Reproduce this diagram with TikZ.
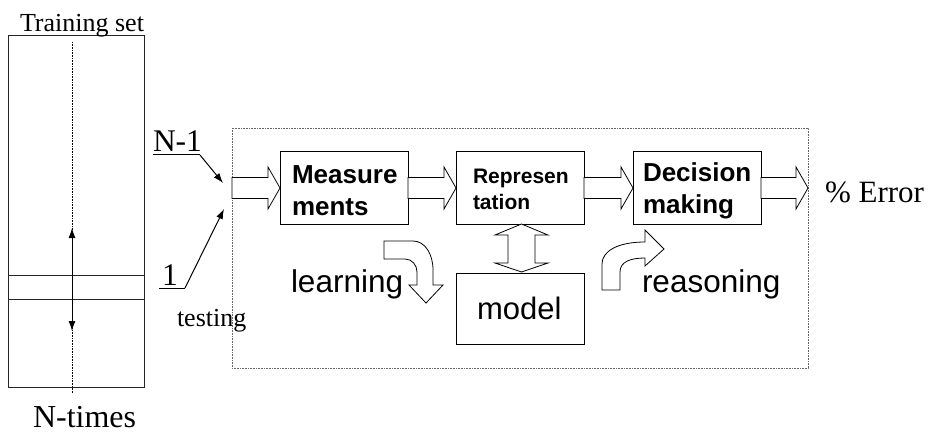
\documentclass[tikz,border=0pt]{standalone}
\usepackage{fontspec}
\setmainfont{Liberation Serif}
\setsansfont{Liberation Sans}
\usetikzlibrary{arrows.meta}
\newcommand\fsz[1]{\fontsize{#1}{#1}\selectfont}
\tikzset{
  txt/.style={anchor=base west, inner sep=0pt, outer sep=0pt},
  serif/.style={txt, font=\rmfamily\fsz{#1}},
  sans/.style={txt, font=\sffamily\fsz{#1}},
  bsans/.style={txt, font=\sffamily\bfseries\fsz{#1}},
  procbox/.style={draw=black, line width=1pt, minimum width=128pt, minimum height=72pt, inner sep=0pt},
  blockarr/.style={draw=black, line width=0.8pt, fill=white, line join=miter},
  thinarr/.style={draw=black, line width=1pt, -{Latex[length=10pt,width=7pt]}},
  boththin/.style={draw=black, line width=1pt, {Latex[length=10pt,width=7pt]}-{Latex[length=10pt,width=7pt]}},
}
\begin{document}
\begin{tikzpicture}[x=1pt,y=-1pt]
\useasboundingbox (0,0) rectangle (932,433);

% left training-set column
\draw[line width=0.9pt, draw=black!85] (8,35) rectangle (144,387);
\draw[line width=0.9pt, draw=black!85] (8,275) -- (144,275);
\draw[line width=0.9pt, draw=black!85] (8,299) -- (144,299);
\draw[line width=0.6pt, densely dotted] (72,42) -- (72,393);
\coordinate (upT) at (72,228);
\coordinate (dnT) at (72,331);
\draw[boththin] (upT) -- (dnT);
\node[serif=26] (train) at (20,32) {Training set};
\node[serif=32] (ntimes) at (33,427) {N-times};

% N-1 and 1 inputs
\node[serif=31.5] (nm1) at (153,152) {N-1};
\coordinate (nm1a) at (153,155);
\coordinate (nm1b) at (200,155);
\coordinate (nm1t) at (223,183);
\draw[line width=1pt] (nm1a) -- (nm1b);
\draw[thinarr] (nm1b) -- (nm1t);
\node[serif=31.5] (one) at (162,285) {1};
\coordinate (onea) at (159,288);
\coordinate (oneb) at (185,288);
\coordinate (onet) at (224,209);
\draw[line width=1pt] (onea) -- (oneb);
\draw[thinarr] (oneb) -- (onet);
\node[serif=26] (testing) at (177,326) {testing};

% outer frame
\draw[line width=0.6pt, draw=black!60, densely dotted] (232,128) rectangle (808,368);

% boxes
\node[procbox] (meas) at (344,188) {};
\node[procbox] (rep) at (520,188) {};
\node[procbox] (dec) at (697,188) {};
\node[procbox, minimum height=71pt] (model) at (520,308.5) {};

\node[bsans=26] (measA) at (292,183) {Measure};
\node[bsans=26] (measB) at (292,215) {ments};
\node[bsans=21] (repA) at (473,183) {Represen};
\node[bsans=21] (repB) at (473,209) {tation};
\node[bsans=26] (decA) at (643,182) {Decision};
\node[bsans=26] (decB) at (643,213) {making};
\node[sans=31] (modelT) at (477,319) {model};
\node[sans=31.5] (learnT) at (291,292) {learning};
\node[sans=31.5] (reasT) at (642,292) {reasoning};
\node[serif=31] (err) at (825,202) {\% Error};

% horizontal block arrows
\foreach \xa/\xt in {232/280, 408/456, 584/633, 761/808}{
  \draw[blockarr] (\xa,177.5) -- (\xt-12,177.5) -- (\xt-12,167) -- (\xt,188)
     -- (\xt-12,209) -- (\xt-12,198.5) -- (\xa,198.5) -- cycle;
}

% double block arrow between representation and model
\draw[blockarr] (521.5,224) -- (548,235) -- (535,235) -- (535,263) -- (548,263)
  -- (521.5,272) -- (495,263) -- (508,263) -- (508,235) -- (495,235) -- cycle;

% learning curved arrow
\draw[blockarr] (384,241) -- (413,241) .. controls (425,241) and (433,254) .. (433,270)
  -- (433,285) -- (443,285) -- (426,303) -- (409,285) -- (417,285) -- (417,272)
  .. controls (417,265) and (412,259) .. (405,259) -- (384,259) -- cycle;

% reasoning curved arrow
\draw[blockarr] (602,290) -- (602,264) .. controls (602,251) and (618,242) .. (645,242)
  -- (645,230) -- (664,249) -- (645,266) -- (645,258)
  .. controls (630,258) and (620,262) .. (620,272) -- (620,290) -- cycle;
\end{tikzpicture}
\end{document}
